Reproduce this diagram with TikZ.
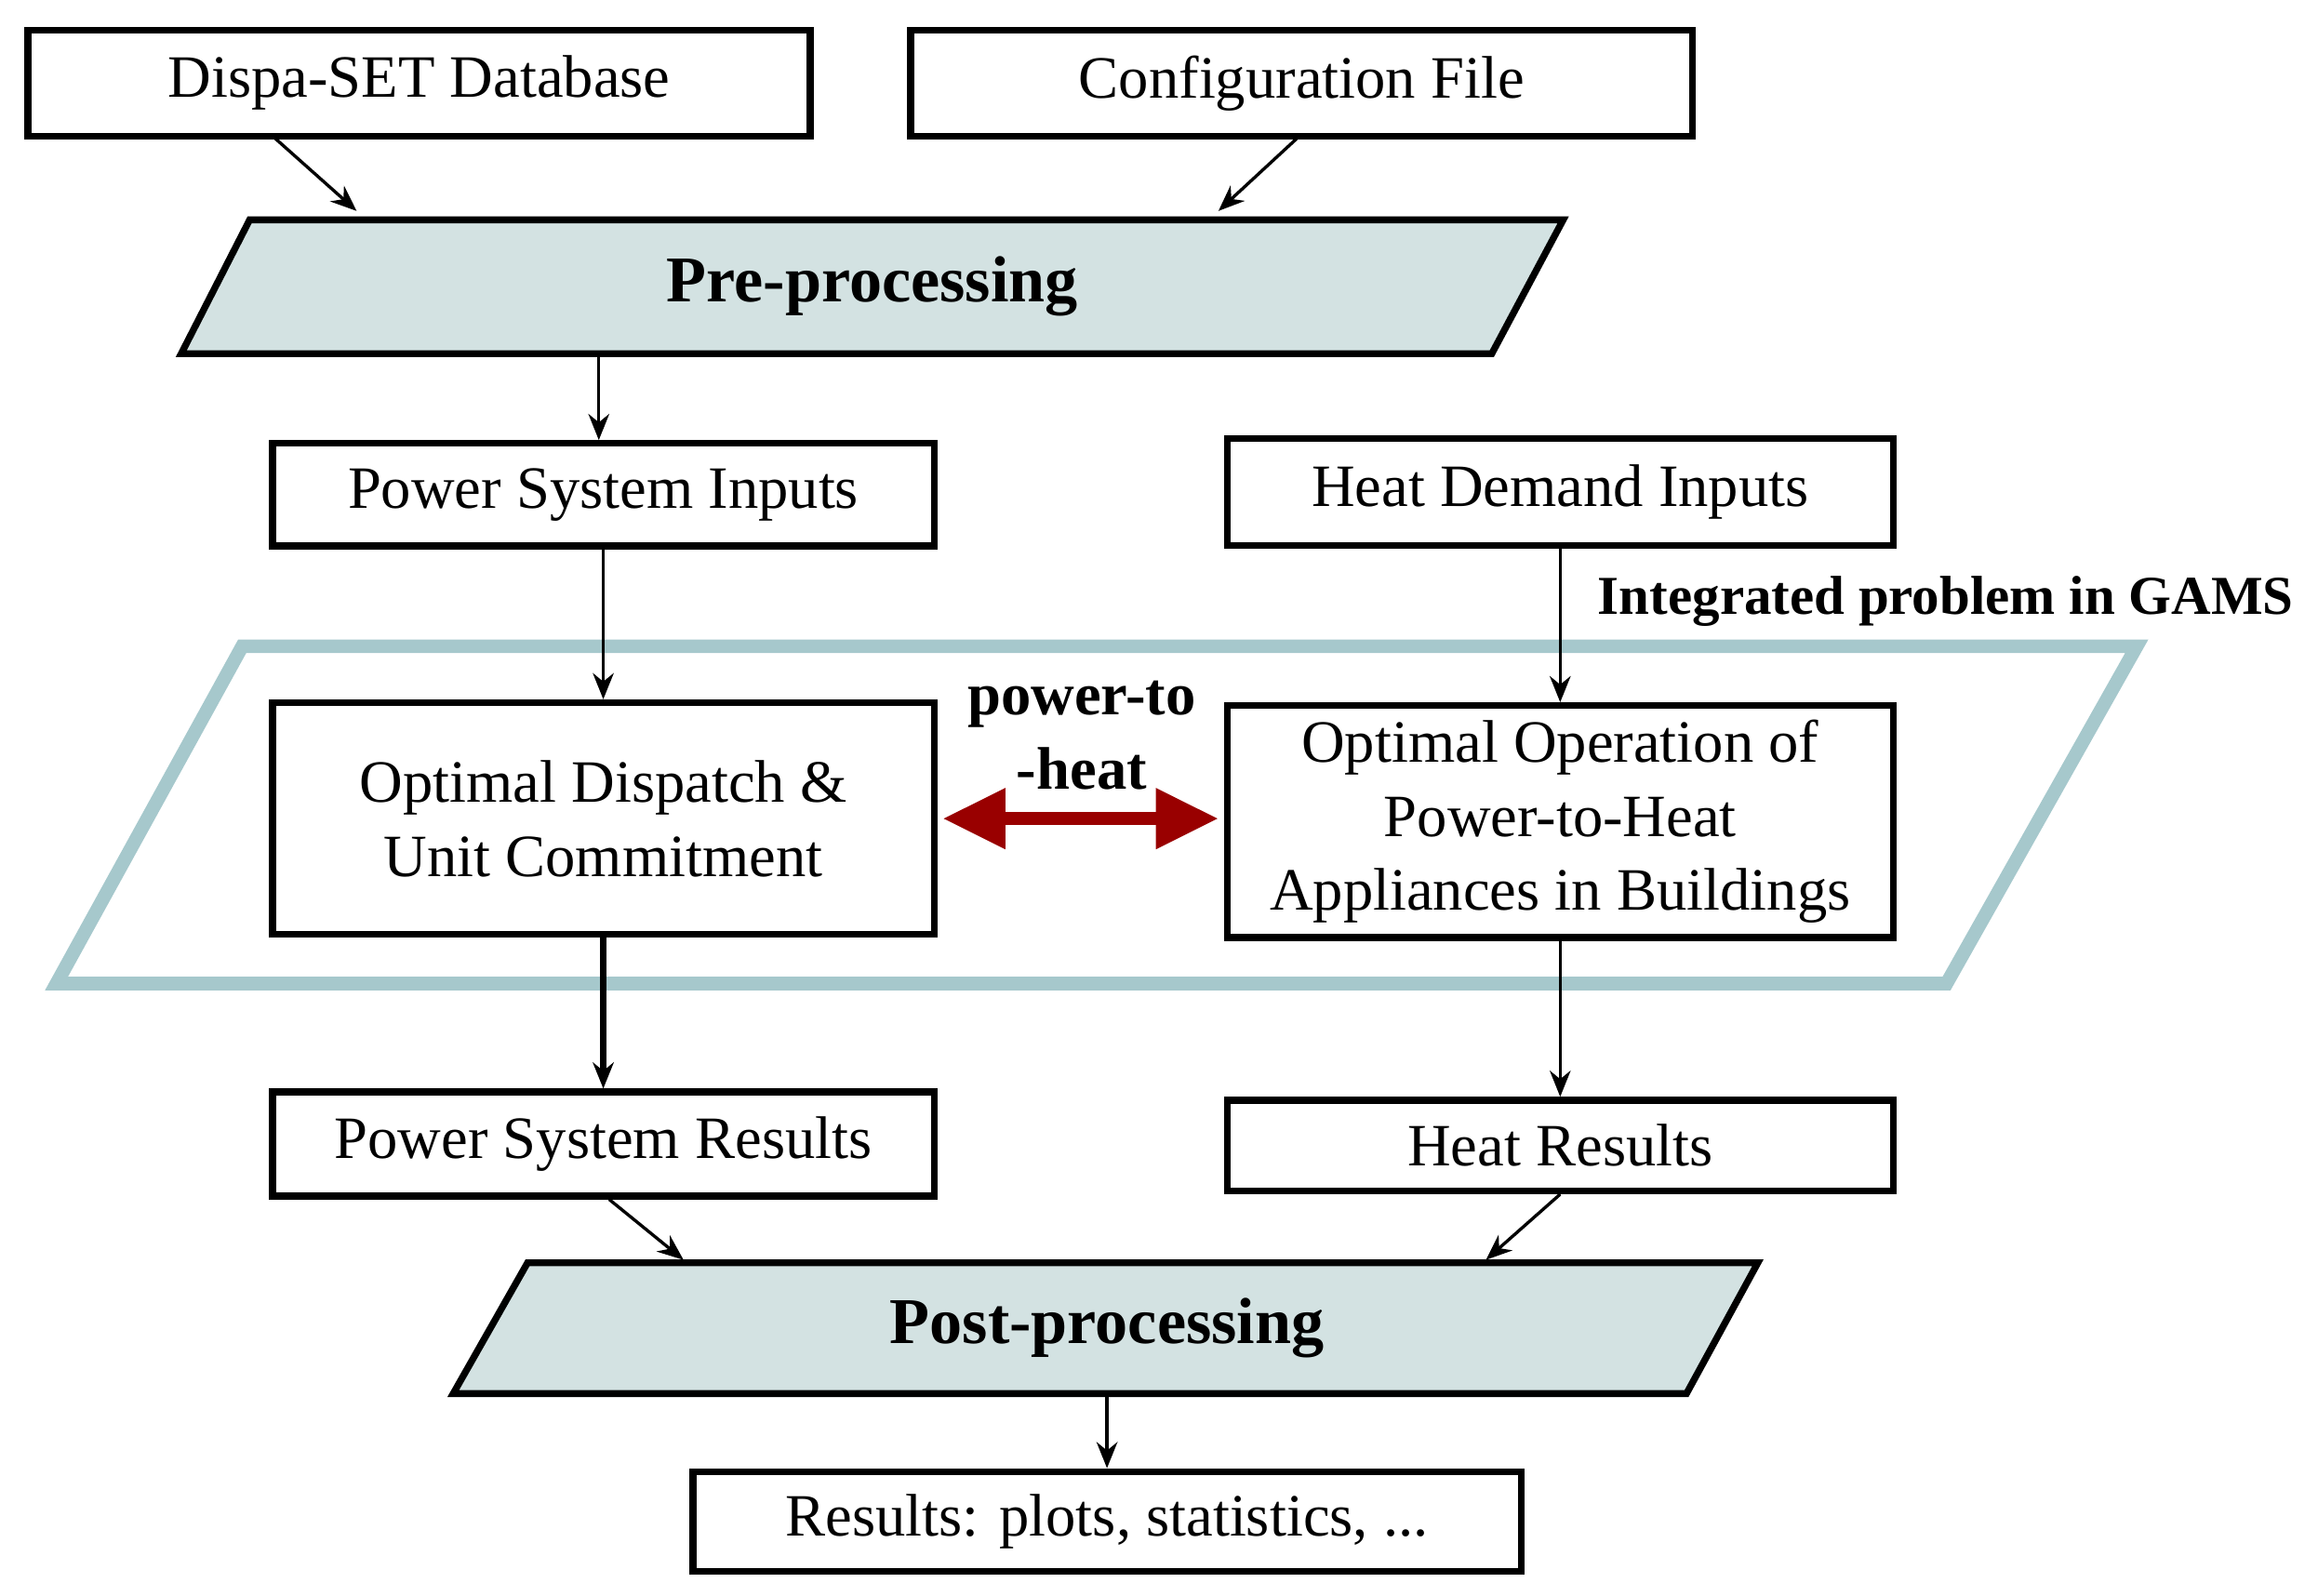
\documentclass[tikz,border=0pt]{standalone}
\usepackage{fontspec}
\setmainfont{Liberation Serif}
\usetikzlibrary{arrows.meta}
\definecolor{par}{RGB}{211,226,226}
\definecolor{frame}{RGB}{166,200,204}
\begin{document}
\begin{tikzpicture}[x=0.01cm,y=-0.01cm,
  box/.style={draw,line width=1.3pt,inner sep=0pt,font=\fontsize{11.5}{14.2}\selectfont,align=center},
  arr/.style={-{Stealth[length=5pt,width=4pt]},line width=0.6pt},
  lab/.style={font=\fontsize{11.5}{14.2}\selectfont\bfseries,align=center}]
\useasboundingbox (0,0) rectangle (1560,1074);
% boxes
\node[box,minimum width=5.26cm,minimum height=0.71cm] (db) at (282,56) {Dispa-SET Database};
\node[box,minimum width=5.26cm,minimum height=0.71cm] (cf) at (876,56) {Configuration File};
\node[box,minimum width=4.45cm,minimum height=0.69cm] (psi) at (406,333) {Power System Inputs};
\node[box,minimum width=4.48cm,minimum height=0.72cm] (hdi) at (1050,331) {Heat Demand Inputs};
\node[box,minimum width=4.45cm,minimum height=1.56cm] (od) at (406,551) {Optimal Dispatch \&\\Unit Commitment};
\node[box,minimum width=4.48cm,minimum height=1.56cm] (oo) at (1050,553) {Optimal Operation of\\Power-to-Heat\\Appliances in Buildings};
\node[box,minimum width=4.45cm,minimum height=0.70cm] (psr) at (406,770) {Power System Results};
\node[box,minimum width=4.48cm,minimum height=0.61cm] (hr) at (1050,771) {Heat Results};
\node[box,minimum width=5.57cm,minimum height=0.67cm] (res) at (745,1024) {Results: plots, statistics, ...};
% parallelograms
\draw[line width=1.3pt,fill=par] (168,148) -- (1052,148) -- (1004,238) -- (122,238) -- cycle;
\node[lab,font=\fontsize{12.5}{15}\selectfont\bfseries] (pre) at (587,193) {Pre-processing};
\draw[line width=1.3pt,fill=par] (355,850) -- (1183,850) -- (1135,938) -- (305,938) -- cycle;
\node[lab,font=\fontsize{12.5}{15}\selectfont\bfseries] (post) at (745,894) {Post-processing};
\draw[line width=2.6pt,color=frame] (163,435) -- (1438,435) -- (1310,662) -- (38,662) -- cycle;
\node[lab,anchor=west,font=\fontsize{10.5}{13}\selectfont\bfseries] (gams) at (1063,405) {Integrated problem in GAMS};
\node[lab] (pth) at (728,495) {power-to\\-heat};
% coordinates
\coordinate (preA) at (240,142); \coordinate (preB) at (820,142);
\coordinate (preC) at (403,238); \coordinate (postA) at (460,848);
\coordinate (postB) at (1000,848); \coordinate (postC) at (745,938);
\coordinate (dbS) at (185,93); \coordinate (cfS) at (873,93);
% connectors
\draw[arr] (dbS) -- (preA);
\draw[arr] (cfS) -- (preB);
\draw[arr] (preC) -- (psi.north -| preC);
\draw[arr] (psi.south) -- (od.north);
\draw[arr] (hdi.south) -- (oo.north);
\draw[arr,line width=1.3pt] (od.south) -- (psr.north);
\draw[arr] (oo.south) -- (hr.north);
\draw[arr] ([xshift=0.04cm]psr.south) -- (postA);
\draw[arr] (hr.south) -- (postB);
\draw[arr] (postC) -- (res.north);
\draw[{Triangle[length=12pt,width=11pt]}-{Triangle[length=12pt,width=11pt]},line width=2.5pt,color=red!60!black,shorten <=1pt,shorten >=1pt] (od.east) -- (od.east -| oo.west);
\end{tikzpicture}
\end{document}
